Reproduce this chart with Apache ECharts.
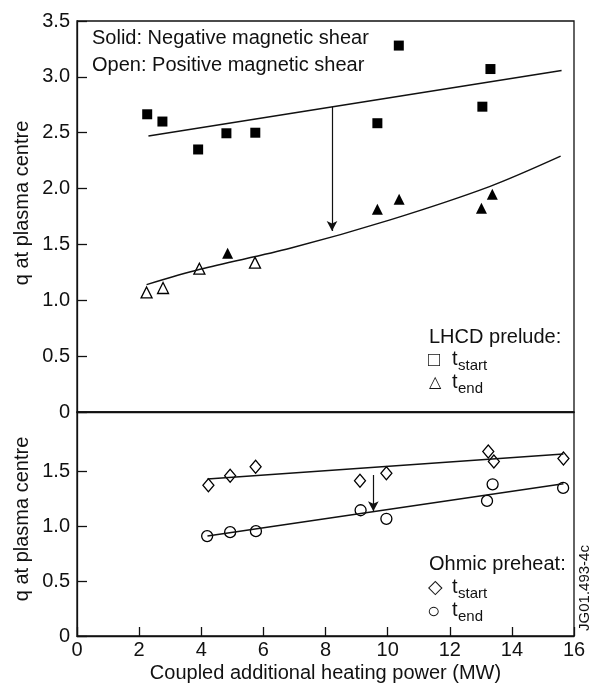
<!DOCTYPE html>
<html>
<head>
<meta charset="utf-8">
<script src="https://cdn.jsdelivr.net/npm/echarts@6/dist/echarts.min.js"></script>
<style>
  html, body { margin: 0; padding: 0; background: #fff; }
  #main { width: 592px; height: 684px; }
</style>
</head>
<body>
<div id="main"></div>
<script>
// LHCD prelude (top panel), [power MW, q]
const lhcdStartNeg = [[2.26, 2.665], [2.75, 2.60], [3.9, 2.35], [4.81, 2.495], [5.74, 2.50],
                      [9.67, 2.585], [10.36, 3.28], [13.05, 2.733], [13.31, 3.07]];
const lhcdEndNeg = [[4.85, 1.42], [9.67, 1.815], [10.37, 1.904], [13.02, 1.823], [13.37, 1.95]];
const lhcdEndPos = [[2.24, 1.07], [2.77, 1.11], [3.94, 1.283], [5.73, 1.337]];
const lhcdStartFit = [[2.3, 2.47], [15.6, 3.056]];
const lhcdEndFit = [[2.24, 1.14], [3.96, 1.277], [6.86, 1.465], [10.08, 1.72], [13.3, 2.02], [15.57, 2.29]];
const lhcdArrow = [[8.21, 2.73], [8.21, 1.62]];

// Ohmic preheat (bottom panel)
const ohmicStart = [[4.23, 1.376], [4.93, 1.464], [5.75, 1.545], [9.11, 1.418], [9.96, 1.485],
                    [13.24, 1.685], [13.42, 1.594], [15.66, 1.621]];
const ohmicEnd = [[4.19, 0.912], [4.93, 0.948], [5.76, 0.957], [9.13, 1.148], [9.96, 1.07],
                  [13.2, 1.233], [13.38, 1.385], [15.65, 1.352]];
const ohmicStartFit = [[4.2, 1.434], [15.66, 1.661]];
const ohmicEndFit = [[4.2, 0.912], [15.66, 1.39]];
const ohmicArrow = [[9.54, 1.47], [9.54, 1.14]];

const topTicks = [0, 0.5, 1.0, 1.5, 2.0, 2.5, 3.0, 3.5];
const bottomTicks = [0, 0.5, 1.0, 1.5];

const ink = '#111';
const font = 'Liberation Sans, Arial, Helvetica, sans-serif';
const fs = 20;

let chart = echarts.init(document.getElementById('main'));

function qLabel(v) {
    return v === 0 ? '0' : v.toFixed(1);
}

function fitLine(data, xi, smooth, arrow) {
    let s = {
        type: 'line', xAxisIndex: xi, yAxisIndex: xi, data: data,
        symbol: 'none', smooth: smooth, silent: true,
        lineStyle: { color: ink, width: 1.5 }
    };
    if (arrow) {
        s.markLine = {
            silent: true, symbol: ['none', 'arrow'], symbolSize: [8, 10],
            label: { show: false },
            lineStyle: { color: ink, width: 1.2, type: 'solid' },
            data: [[{ coord: arrow[0] }, { coord: arrow[1] }]]
        };
    }
    return s;
}

function dots(data, xi, symbol, size, filled) {
    return {
        type: 'scatter', xAxisIndex: xi, yAxisIndex: xi, data: data,
        symbol: symbol, symbolSize: size, silent: true,
        itemStyle: filled ? { color: '#000', opacity: 1 }
                          : { color: '#fff', borderColor: '#000', borderWidth: 1.3, opacity: 1 }
    };
}

function txt(x, y, s, size, extra) {
    return Object.assign({
        type: 'text', x: x, y: y,
        style: { text: s, fill: ink, font: size + 'px ' + font, verticalAlign: 'middle' }
    }, extra || {});
}

function vtxt(x, y, s, size) {
    return {
        type: 'text', x: x, y: y, rotation: Math.PI / 2,
        style: { text: s, fill: ink, font: size + 'px ' + font, align: 'center', verticalAlign: 'middle' }
    };
}

let labelStyle = { color: ink, fontSize: fs, fontFamily: font };

let option = {
    animation: false,
    backgroundColor: '#fff',
    grid: [
        { left: 77, right: 18, top: 21, height: 391, show: true, borderColor: ink, borderWidth: 1.3 },
        { left: 77, right: 18, top: 412, height: 225, show: true, borderColor: ink, borderWidth: 1.3 }
    ],
    xAxis: [
        {
            gridIndex: 0, type: 'value', min: 0, max: 16, interval: 2,
            axisLine: { lineStyle: { color: ink, width: 1.3 } },
            axisTick: { show: false }, axisLabel: { show: false }, splitLine: { show: false }
        },
        {
            gridIndex: 1, type: 'value', min: 0, max: 16, interval: 2,
            axisLine: { lineStyle: { color: ink, width: 1.3 } },
            axisTick: { inside: true, length: 9, lineStyle: { color: ink, width: 1.3 } },
            axisLabel: Object.assign({ margin: 4 }, labelStyle),
            splitLine: { show: false },
            name: 'Coupled additional heating power (MW)', nameLocation: 'middle', nameGap: 27,
            nameTextStyle: labelStyle
        }
    ],
    yAxis: [
        {
            gridIndex: 0, type: 'value', min: 0, max: 3.5, interval: 0.5,
            axisLine: { show: true, lineStyle: { color: ink, width: 1.3 } },
            axisTick: { inside: true, length: 10, customValues: topTicks, lineStyle: { color: ink, width: 1.3 } },
            axisLabel: Object.assign({ margin: 7, formatter: qLabel, customValues: topTicks }, labelStyle),
            splitLine: { show: false }
        },
        {
            gridIndex: 1, type: 'value', min: 0, max: 2.045,
            axisLine: { show: true, lineStyle: { color: ink, width: 1.3 } },
            axisTick: { inside: true, length: 10, customValues: bottomTicks, lineStyle: { color: ink, width: 1.3 } },
            axisLabel: Object.assign({ margin: 7, formatter: qLabel, customValues: bottomTicks }, labelStyle),
            splitLine: { show: false }
        }
    ],
    graphic: [
        txt(92, 38, 'Solid: Negative magnetic shear', fs),
        txt(92, 65, 'Open: Positive magnetic shear', fs),
        vtxt(22, 203, 'q at plasma centre', fs),
        vtxt(22, 519, 'q at plasma centre', fs),

        txt(429, 337, 'LHCD prelude:', fs),
        txt(428, 360, '\u25A1', 20),
        txt(452, 359, 't', fs),
        txt(458, 366, 'start', 15),
        txt(429, 383, '\u25B3', 16),
        txt(452, 382, 't', fs),
        txt(458, 389, 'end', 15),

        txt(429, 564, 'Ohmic preheat:', fs),
        txt(428, 588, '\u25C7', 19),
        txt(452, 587, 't', fs),
        txt(458, 594, 'start', 15),
        txt(427, 612, '\u25CB', 22),
        txt(452, 610, 't', fs),
        txt(458, 617, 'end', 15),

        vtxt(585, 588, 'JG01.493-4c', 15)
    ],
    series: [
        fitLine(lhcdStartFit, 0, false, lhcdArrow),
        fitLine(lhcdEndFit, 0, 0.3, null),
        dots(lhcdStartNeg, 0, 'rect', 10, true),
        dots(lhcdEndNeg, 0, 'triangle', 11, true),
        dots(lhcdEndPos, 0, 'triangle', 11, false),
        fitLine(ohmicStartFit, 1, false, ohmicArrow),
        fitLine(ohmicEndFit, 1, false, null),
        dots(ohmicStart, 1, 'diamond', [11, 13], false),
        dots(ohmicEnd, 1, 'circle', 11, false)
    ]
};
chart.setOption(option);
</script>
</body>
</html>
